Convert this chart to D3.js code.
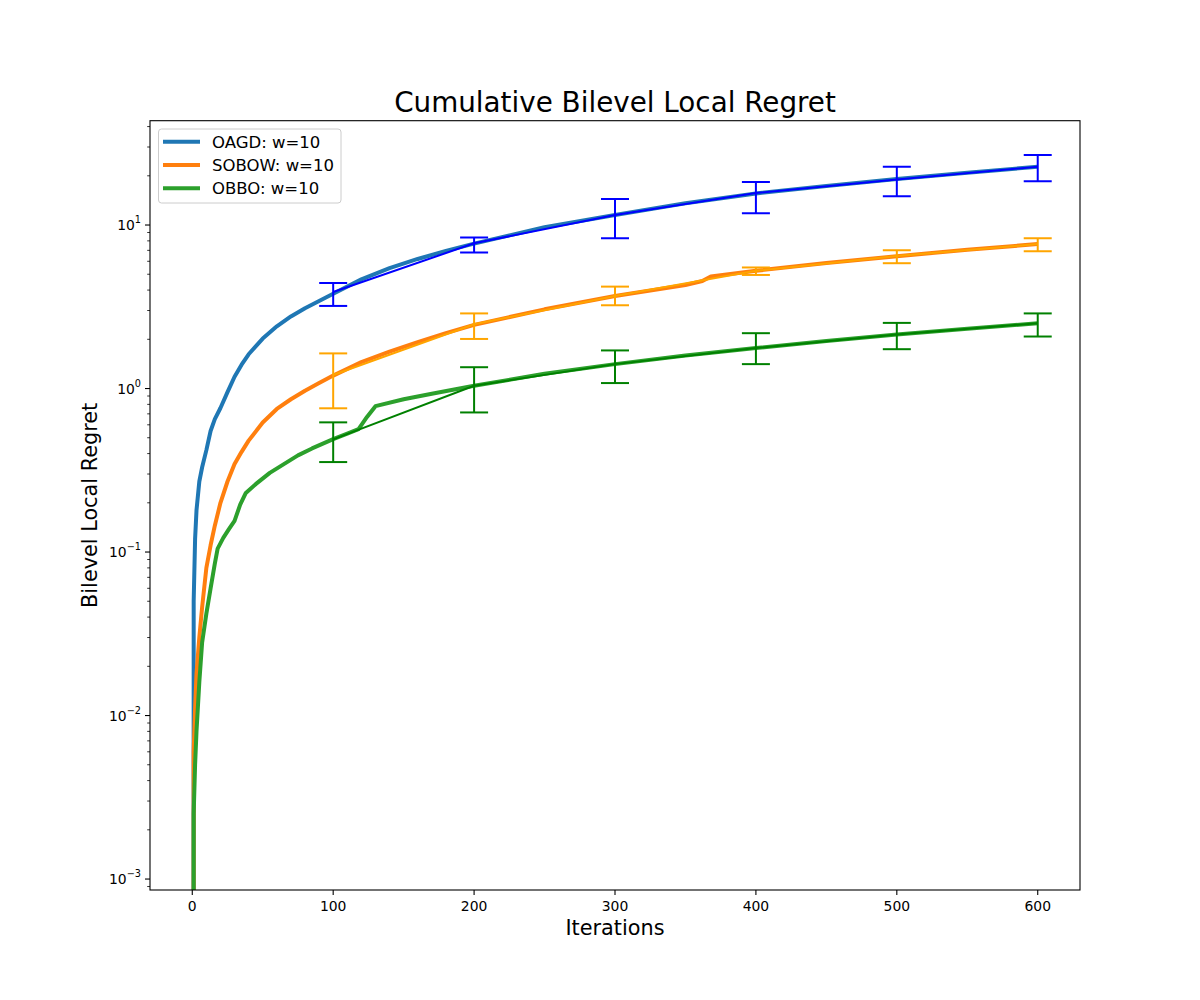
<!DOCTYPE html>
<html lang="en">
<head>
<meta charset="UTF-8">
<title>Cumulative Bilevel Local Regret</title>
<script src="https://d3js.org/d3.v7.min.js"></script>
<style>
  body { margin: 0; background: #fff; }
  text { font-family: 'DejaVu Sans', sans-serif; fill: #000; }
</style>
</head>
<body>
<script>
const width = 1200, height = 1000;

// cumulative regret curves (thick lines)
const oagdX = [0, 1, 2, 3, 5, 7, 10, 13, 16, 20, 25, 30, 35, 40, 50, 60, 70, 80, 90, 100, 120, 140, 160, 180, 200, 250, 300, 350, 400, 450, 500, 550, 600];
const oagdY = [0, 0.05, 0.12, 0.18, 0.27, 0.33, 0.42, 0.55, 0.65, 0.76, 0.95, 1.18, 1.4, 1.62, 2.02, 2.4, 2.76, 3.1, 3.43, 3.8, 4.65, 5.45, 6.2, 6.95, 7.7, 9.7, 11.5, 13.6, 15.6, 17.3, 19.1, 20.9, 22.7];

const sobowX = [0, 1, 2, 3, 5, 7, 10, 13, 16, 20, 25, 30, 35, 40, 50, 60, 70, 80, 90, 100, 120, 140, 160, 180, 200, 250, 300, 350, 362, 368, 400, 450, 500, 550, 600];
const sobowY = [0, 0.006, 0.011, 0.018, 0.03, 0.046, 0.08, 0.11, 0.145, 0.2, 0.27, 0.345, 0.41, 0.48, 0.62, 0.75, 0.86, 0.97, 1.08, 1.2, 1.45, 1.68, 1.92, 2.18, 2.45, 3.05, 3.68, 4.3, 4.55, 4.85, 5.25, 5.85, 6.45, 7.05, 7.65];

const obboX = [0, 1, 2, 3, 5, 7, 10, 13, 16, 18, 22, 26, 30, 34, 38, 45, 55, 65, 75, 85, 100, 110, 118, 124, 130, 150, 170, 200, 250, 300, 350, 400, 450, 500, 550, 600];
const obboY = [0, 0.0025, 0.005, 0.008, 0.016, 0.028, 0.042, 0.06, 0.085, 0.105, 0.122, 0.138, 0.155, 0.195, 0.23, 0.26, 0.305, 0.345, 0.39, 0.43, 0.49, 0.53, 0.565, 0.67, 0.78, 0.86, 0.93, 1.04, 1.23, 1.41, 1.59, 1.77, 1.95, 2.14, 2.32, 2.51];

// error bar checkpoints (thin lines)
const barX = [100, 200, 300, 400, 500, 600];
const oagdMean = [3.89, 7.73, 11.5, 15.7, 19.0, 22.7];
const oagdLow  = [3.2, 6.8, 8.3, 11.8, 15.0, 18.5];
const oagdHigh = [4.42, 8.4, 14.4, 18.3, 22.7, 26.8];
const sobowMean = [1.21, 2.47, 3.68, 5.25, 6.46, 7.65];
const sobowLow  = [0.757, 2.01, 3.23, 4.95, 5.84, 6.9];
const sobowHigh = [1.64, 2.88, 4.2, 5.5, 7.0, 8.3];
const obboMean = [0.489, 1.04, 1.41, 1.77, 2.14, 2.51];
const obboLow  = [0.355, 0.714, 1.08, 1.41, 1.74, 2.08];
const obboHigh = [0.621, 1.35, 1.71, 2.18, 2.52, 2.88];

const names = ["OAGD: w=10", "SOBOW: w=10", "OBBO: w=10"];
const xTicks = [0, 100, 200, 300, 400, 500, 600];
const yExps = [-3, -2, -1, 0, 1];

const series = [
  {name: names[0], xs: oagdX, ys: oagdY, mean: oagdMean, low: oagdLow, high: oagdHigh, color: "#1f77b4", bar: "blue"},
  {name: names[1], xs: sobowX, ys: sobowY, mean: sobowMean, low: sobowLow, high: sobowHigh, color: "#ff7f0e", bar: "orange"},
  {name: names[2], xs: obboX, ys: obboY, mean: obboMean, low: obboLow, high: obboHigh, color: "#2ca02c", bar: "green"}
];

const pLeft = 150, pRight = 1080, pTop = 120.7, pBottom = 890;

const x = d3.scaleLinear().domain([-30, 630]).range([pLeft, pRight]);
const y = d3.scaleLog().domain([Math.pow(10, -3.067), Math.pow(10, 1.638)]).range([pBottom, pTop]);

const svg = d3.select("body").append("svg")
    .attr("width", width).attr("height", height);

svg.append("defs").append("clipPath").attr("id", "plot")
    .append("rect").attr("x", pLeft).attr("y", pTop)
    .attr("width", pRight - pLeft).attr("height", pBottom - pTop);

// non-positive values clipped like matplotlib
const safe = v => v > 0 ? v : 1e-30;

const line = d3.line()
    .x(d => x(d[0]))
    .y(d => y(safe(d[1])));

const plot = svg.append("g").attr("clip-path", "url(#plot)");

series.forEach(s => {
  plot.append("path")
      .attr("d", line(s.xs.map((v, i) => [v, s.ys[i]])))
      .attr("fill", "none")
      .attr("stroke", s.color)
      .attr("stroke-width", 4)
      .attr("stroke-linejoin", "round");
});

series.forEach(s => {
  const g = plot.append("g");
  g.append("path")
      .attr("d", line(barX.map((v, i) => [v, s.mean[i]])))
      .attr("fill", "none")
      .attr("stroke", s.bar)
      .attr("stroke-width", 2);
  barX.forEach((v, i) => {
    g.append("line")
        .attr("x1", x(v)).attr("x2", x(v))
        .attr("y1", y(s.low[i])).attr("y2", y(s.high[i]))
        .attr("stroke", s.bar).attr("stroke-width", 2);
    [s.low[i], s.high[i]].forEach(c => {
      g.append("line")
          .attr("x1", x(v) - 14).attr("x2", x(v) + 14)
          .attr("y1", y(c)).attr("y2", y(c))
          .attr("stroke", s.bar).attr("stroke-width", 2);
    });
  });
});

// frame
svg.append("rect")
    .attr("x", pLeft).attr("y", pTop)
    .attr("width", pRight - pLeft).attr("height", pBottom - pTop)
    .attr("fill", "none").attr("stroke", "#000").attr("stroke-width", 1.1);

// x axis
const xg = svg.append("g");
xTicks.forEach(t => {
  xg.append("line").attr("x1", x(t)).attr("x2", x(t))
      .attr("y1", pBottom).attr("y2", pBottom + 5).attr("stroke", "#000").attr("stroke-width", 1.1);
  xg.append("text").attr("x", x(t)).attr("y", pBottom + 21)
      .attr("text-anchor", "middle").attr("font-size", 13.9).text(t);
});

// y axis, major + minor ticks
const yg = svg.append("g");
yExps.forEach(e => {
  const py = y(Math.pow(10, e));
  yg.append("line").attr("x1", pLeft - 5).attr("x2", pLeft)
      .attr("y1", py).attr("y2", py).attr("stroke", "#000").attr("stroke-width", 1.1);
  const t = yg.append("text").attr("x", pLeft - 9).attr("y", py + 5)
      .attr("text-anchor", "end").attr("font-size", 13.9);
  t.append("tspan").text("10");
  t.append("tspan").attr("dy", -7).attr("font-size", 9.7).text(e < 0 ? "\u2212" + (-e) : e);
});
for (let e = -4; e <= 1; e++) {
  for (let m = 2; m <= 9; m++) {
    const v = m * Math.pow(10, e);
    if (v < y.domain()[0] || v > y.domain()[1]) continue;
    const py = y(v);
    yg.append("line").attr("x1", pLeft - 2.8).attr("x2", pLeft)
        .attr("y1", py).attr("y2", py).attr("stroke", "#000").attr("stroke-width", 0.8);
  }
}

// titles
svg.append("text").attr("x", (pLeft + pRight) / 2).attr("y", 112)
    .attr("text-anchor", "middle").attr("font-size", 27.8).text("Cumulative Bilevel Local Regret");
svg.append("text").attr("x", (pLeft + pRight) / 2).attr("y", 935)
    .attr("text-anchor", "middle").attr("font-size", 20.8).text("Iterations");
svg.append("text").attr("transform", "translate(97," + ((pTop + pBottom) / 2) + ") rotate(-90)")
    .attr("text-anchor", "middle").attr("font-size", 20.8).text("Bilevel Local Regret");

// legend
const lg = svg.append("g");
lg.append("rect").attr("x", 158.5).attr("y", 129).attr("width", 182.5).attr("height", 74)
    .attr("rx", 3).attr("fill", "#fff").attr("fill-opacity", 0.8)
    .attr("stroke", "#cccccc").attr("stroke-width", 1);
series.forEach((s, i) => {
  const cy = 141.7 + i * 23.3;
  lg.append("line").attr("x1", 163).attr("x2", 200).attr("y1", cy).attr("y2", cy)
      .attr("stroke", s.color).attr("stroke-width", 4);
  lg.append("text").attr("x", 212).attr("y", cy + 6).attr("font-size", 16.5).text(s.name);
});
</script>
</body>
</html>
